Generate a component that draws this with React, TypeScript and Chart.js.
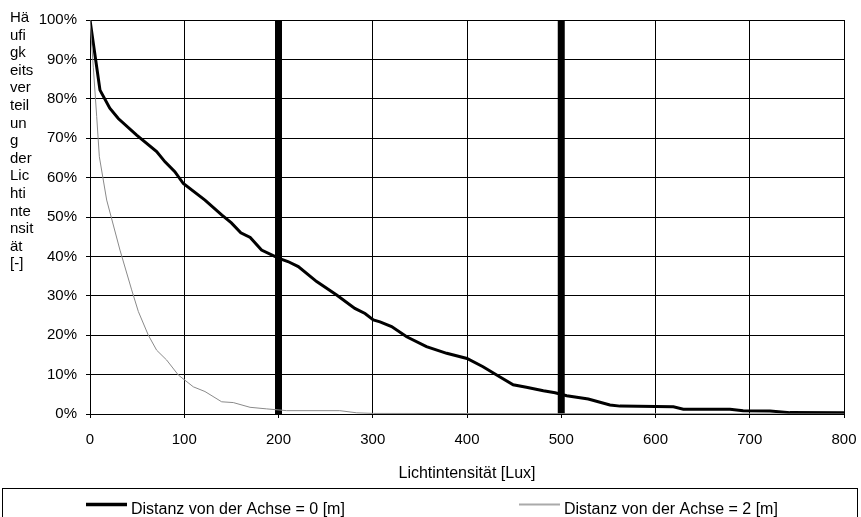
import React, { useEffect, useRef } from "react";
import { Chart, registerables } from "chart.js";

Chart.register(...registerables);

const xTicks = [0, 100, 200, 300, 400, 500, 600, 700, 800];
const yTicks = [0, 10, 20, 30, 40, 50, 60, 70, 80, 90, 100];

const dist0X = [0, 10.6, 21, 30, 49.5, 70.7, 79.6, 90, 99, 122, 140, 150, 160, 170, 182, 200.5, 210, 221, 240.5, 261.7, 281, 291.8, 300.6, 307.7, 320, 336, 357, 378.5, 400, 417, 431.5, 449, 463, 481, 493.5, 505.8, 528.7, 551.7, 562.3, 619, 629.5, 679, 693, 721.5, 742.7, 800];
const dist0Y = [100, 82.2, 77.6, 75, 70.8, 66.6, 64, 61.5, 58.5, 54.3, 50.5, 48.5, 46, 44.8, 41.6, 39.5, 38.7, 37.4, 33.6, 30.2, 26.8, 25.5, 23.9, 23.4, 22.2, 19.6, 17.1, 15.4, 14.1, 12, 9.9, 7.4, 6.8, 5.9, 5.4, 4.65, 3.8, 2.3, 2.0, 1.85, 1.2, 1.2, 0.85, 0.76, 0.35, 0.33];

const dist2X = [0, 3.5, 7.1, 9.9, 17.7, 31.8, 44.2, 51.3, 61.9, 70.7, 81.3, 93.7, 109.6, 122, 139.7, 152, 169.8, 187.5, 208.7, 265, 283, 300.6, 800];
const dist2Y = [100, 88, 75.5, 65.3, 54.3, 41.6, 31.5, 26, 20, 16.2, 13.7, 9.9, 6.9, 5.7, 3.1, 2.9, 1.7, 1.3, 0.85, 0.85, 0.3, 0.15, 0];

const markerX = [200, 500];

const seriesLabels = ["Distanz von der Achse = 0 [m]", "Distanz von der Achse = 2 [m]"];
const yTitleLines = ["Hä", "ufi", "gk", "eits", "ver", "teil", "un", "g", "der", "Lic", "hti", "nte", "nsit", "ät", "[-]"];
const xTitle = "Lichtintensität [Lux]";

const FONT = "'Liberation Sans', Arial, sans-serif";

export default function App() {
  const ref = useRef<HTMLCanvasElement | null>(null);

  useEffect(() => {
    document.body.style.margin = "0";
    const canvas = ref.current;
    if (!canvas) return;

    const decor = {
      id: "decor",
      afterDraw(chart: any) {
        const ctx = chart.ctx;
        ctx.save();
        ctx.fillStyle = "#000";
        ctx.font = `15px ${FONT}`;
        ctx.textAlign = "left";
        ctx.textBaseline = "alphabetic";
        yTitleLines.forEach((t, i) => {
          ctx.fillText(t, 10, 22 + i * 17.6);
        });
        const ca = chart.chartArea;
        ctx.font = `16px ${FONT}`;
        ctx.textAlign = "center";
        ctx.textBaseline = "middle";
        ctx.fillText(xTitle, (ca.left + ca.right) / 2, 474);
        // legend box
        ctx.strokeStyle = "#000";
        ctx.lineWidth = 1;
        ctx.strokeRect(2.5, 488.5, 855, 60);
        ctx.lineWidth = 3.5;
        ctx.beginPath();
        ctx.moveTo(86, 504.5);
        ctx.lineTo(127, 504.5);
        ctx.stroke();
        ctx.strokeStyle = "#aaaaaa";
        ctx.lineWidth = 2;
        ctx.beginPath();
        ctx.moveTo(519, 504.5);
        ctx.lineTo(560, 504.5);
        ctx.stroke();
        ctx.textAlign = "left";
        ctx.fillText(seriesLabels[0], 131, 509.5);
        ctx.fillText(seriesLabels[1], 564, 509.5);
        ctx.restore();
      },
    };

    const markerDatasets = markerX.map((mx) => ({
      label: "marker" + mx,
      data: [
        { x: mx, y: 0 },
        { x: mx, y: 100 },
      ],
      borderColor: "#000",
      borderWidth: 7,
      borderCapStyle: "butt",
      pointRadius: 0,
      tension: 0,
    }));

    const chart = new Chart(canvas, {
      type: "line",
      data: {
        datasets: [
          {
            label: seriesLabels[1],
            data: dist2X.map((x, i) => ({ x, y: dist2Y[i] })),
            borderColor: "#8a8a8a",
            borderWidth: 1,
            pointRadius: 0,
            tension: 0,
          },
          {
            label: seriesLabels[0],
            data: dist0X.map((x, i) => ({ x, y: dist0Y[i] })),
            borderColor: "#000",
            borderWidth: 3,
            pointRadius: 0,
            tension: 0,
          },
          ...markerDatasets,
        ] as any,
      },
      options: {
        animation: false,
        responsive: false,
        maintainAspectRatio: false,
        layout: { padding: { top: 20, right: 17, left: 0, bottom: 0 } },
        plugins: { legend: { display: false }, tooltip: { enabled: false } },
        scales: {
          x: {
            type: "linear",
            min: 0,
            max: 800,
            afterFit: (s: any) => {
              s.height = 103;
              s.paddingLeft = 0;
              s.paddingRight = 0;
            },
            afterBuildTicks: (s: any) => {
              s.ticks = xTicks.map((v) => ({ value: v }));
            },
            ticks: {
              color: "#000",
              font: { family: FONT, size: 15 },
              padding: 13,
              maxRotation: 0,
              autoSkip: false,
            },
            grid: { color: "#000", lineWidth: 1, tickLength: 4, drawTicks: true },
            border: { color: "#000", width: 1 },
          },
          y: {
            type: "linear",
            min: 0,
            max: 100,
            afterFit: (s: any) => {
              s.width = 90;
              s.paddingTop = 0;
              s.paddingBottom = 0;
            },
            afterBuildTicks: (s: any) => {
              s.ticks = yTicks.map((v) => ({ value: v }));
            },
            ticks: {
              color: "#000",
              font: { family: FONT, size: 15 },
              padding: 9,
              callback: (v: any) => v + "%",
            },
            grid: { color: "#000", lineWidth: 1, tickLength: 4 },
            border: { color: "#000", width: 1 },
          },
        },
      },
      plugins: [decor],
    });

    return () => chart.destroy();
  }, []);

  return (
    <div style={{ width: 861, height: 517 }}>
      <canvas ref={ref} width={861} height={517} style={{ display: "block" }} />
    </div>
  );
}
